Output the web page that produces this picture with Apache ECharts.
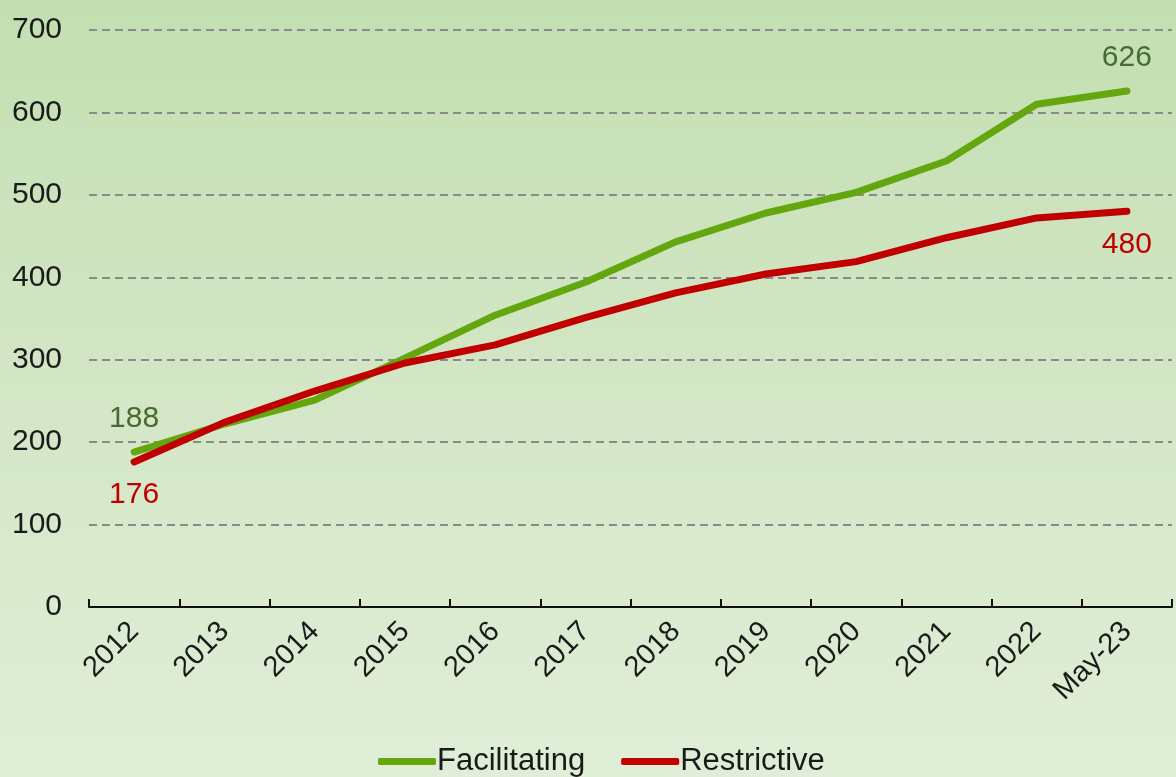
<!DOCTYPE html>
<html>
<head>
<meta charset="utf-8">
<script src="https://cdn.jsdelivr.net/npm/echarts@6/dist/echarts.min.js"></script>
<style>
    html, body { margin: 0; padding: 0; }
    #chart { width: 1176px; height: 777px; }
</style>
</head>
<body>
<div id="chart"></div>
<script>
const categories = ['2012', '2013', '2014', '2015', '2016', '2017', '2018', '2019', '2020', '2021', '2022', 'May-23'];
const facilitating = [188, 222, 251, 302, 354, 394, 443, 478, 503, 541, 610, 626];
const restrictive = [176, 224, 262, 296, 318, 351, 381, 404, 419, 448, 472, 480];
const yTicks = [0, 100, 200, 300, 400, 500, 600, 700];

const fontFamily = '"Liberation Sans", Arial, sans-serif';
const chart = echarts.init(document.getElementById('chart'));

// only show the first and last value
function endLabel(color, position) {
    return {
        show: true,
        position: position,
        distance: 18,
        fontSize: 30,
        fontFamily: fontFamily,
        color: color,
        formatter: (p) => (p.dataIndex === 0 || p.dataIndex === categories.length - 1) ? String(p.value) : ''
    };
}

const option = {
    backgroundColor: {
        type: 'linear',
        x: 0, y: 0, x2: 0, y2: 1,
        colorStops: [
            { offset: 0, color: '#c3dfb1' },
            { offset: 0.5, color: '#d3e6c6' },
            { offset: 1, color: '#e0eed7' }
        ]
    },
    animation: false,
    grid: {
        left: 89,
        right: 4,
        top: 30,
        bottom: 170
    },
    legend: {
        top: 741,
        left: 373,
        icon: 'roundRect',
        itemWidth: 58,
        itemHeight: 7,
        itemGap: 36,
        textStyle: {
            fontSize: 31,
            fontFamily: fontFamily,
            color: '#1a1a1a',
            padding: [0, 0, 0, -4]
        },
        data: ['Facilitating', 'Restrictive']
    },
    xAxis: {
        type: 'category',
        boundaryGap: true,
        data: categories,
        axisLine: { show: true, lineStyle: { color: '#111', width: 2 } },
        axisTick: {
            show: true,
            inside: true,
            interval: 0,
            length: 8,
            alignWithLabel: false,
            lineStyle: { color: '#111', width: 2 }
        },
        axisLabel: {
            rotate: 45,
            interval: 0,
            margin: 20,
            fontSize: 29,
            fontFamily: fontFamily,
            color: '#1a1a1a'
        }
    },
    yAxis: {
        type: 'value',
        min: yTicks[0],
        max: yTicks[yTicks.length - 1],
        interval: 100,
        axisLine: { show: false },
        axisTick: { show: false },
        axisLabel: {
            margin: 27,
            fontSize: 30,
            fontFamily: fontFamily,
            color: '#1a1a1a'
        },
        splitLine: {
            lineStyle: { color: '#8a8a8a', width: 2, type: [8, 5] }
        }
    },
    series: [
        {
            name: 'Facilitating',
            type: 'line',
            data: facilitating,
            symbol: 'circle',
            symbolSize: 0.1,
            showSymbol: true,
            lineStyle: { width: 7, color: '#63a60e', cap: 'round', join: 'round' },
            itemStyle: { color: '#63a60e' },
            label: endLabel('#476b31', 'top')
        },
        {
            name: 'Restrictive',
            type: 'line',
            data: restrictive,
            symbol: 'circle',
            symbolSize: 0.1,
            showSymbol: true,
            lineStyle: { width: 7, color: '#c00000', cap: 'round', join: 'round' },
            itemStyle: { color: '#c00000' },
            label: endLabel('#c00000', 'bottom')
        }
    ]
};

chart.setOption(option);
</script>
</body>
</html>
